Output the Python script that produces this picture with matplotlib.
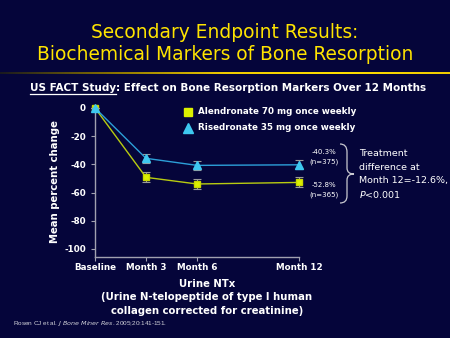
import numpy as np
import matplotlib
matplotlib.use("Agg")
import matplotlib.pyplot as plt
from matplotlib.colors import LinearSegmentedColormap
from matplotlib.path import Path
from matplotlib.patches import PathPatch

# Urine NTx, mean percent change from baseline
meses = [0, 3, 6, 12]
rotulos_x = ["Baseline", "Month 3", "Month 6", "Month 12"]
alendronato = [0, -49.2, -53.9, -52.8]
risedronato = [0, -35.7, -40.7, -40.3]
erro_alen = [0, 3.5, 3.5, 3.5]
erro_rise = [0, 3.3, 3.3, 3.3]
ticks_y = [0, -20, -40, -60, -80, -100]

FUNDO = "#05053a"
AMARELO = "#ffe400"
W, H = 450, 338

fig = plt.figure(figsize=(4.5, 3.38), dpi=100, facecolor=FUNDO)
plt.rcParams['font.family'] = 'DejaVu Sans'

# camada em pixels (origem no canto superior esquerdo) para textos e enfeites
base = fig.add_axes([0, 0, 1, 1])
base.set_xlim(0, W)
base.set_ylim(H, 0)
base.axis("off")
base.set_zorder(5)

# titulo
base.text(225, 33, "Secondary Endpoint Results:", color=AMARELO,
          fontsize=13.4, ha="center", va="center")
base.text(225, 55, "Biochemical Markers of Bone Resorption", color=AMARELO,
          fontsize=13.4, ha="center", va="center")

# linha dourada com degrade
ax_linha = fig.add_axes([0, 1 - 74.5 / H, 1, 2.5 / H])
cmap = LinearSegmentedColormap.from_list("ouro", ["#1a1a20", "#8a7400", "#f0cc00", "#ffe000", "#f0cc00"])
ax_linha.imshow(np.linspace(0, 1, 450)[None, :], aspect="auto", cmap=cmap)
ax_linha.axis("off")

# subtitulo
t1 = base.text(30, 88, "US FACT Study", color="white", fontsize=7.45,
               fontweight="bold", ha="left", va="center")
fig.canvas.draw()
x_fim = t1.get_window_extent().x1 * W / (fig.get_figwidth() * fig.dpi)
base.text(x_fim, 88, ": Effect on Bone Resorption Markers Over 12 Months",
          color="white", fontsize=7.45, fontweight="bold", ha="left", va="center")
base.plot([30, x_fim], [93.5, 93.5], color="white", lw=0.9)

# eixo principal
y_top, y_bot = 2.0, -105.7
x0, x1 = 95, 299
top_px = 108 - y_top * 1.41
ax = fig.add_axes([x0 / W, 1 - 257 / H, (x1 - x0) / W, (257 - top_px) / H])
ax.set_facecolor(FUNDO)
ax.set_xlim(0, 12)
ax.set_ylim(y_bot, y_top)

ax.errorbar(meses, alendronato, yerr=erro_alen, color="#b8cc10", lw=1.0,
            marker="s", ms=4.8, mfc="#dcf000", mec="#c8d800", ecolor="#9a9a9a",
            elinewidth=0.8, capsize=2.8, capthick=0.8, clip_on=False, zorder=3)
ax.errorbar(meses, risedronato, yerr=erro_rise, color="#2c9fd8", lw=1.0,
            marker="^", ms=5.2, mfc="#3ec8f0", mec="#3ec8f0", ecolor="#9a9a9a",
            elinewidth=0.8, capsize=2.8, capthick=0.8, clip_on=False, zorder=4)

for s in ["top", "right"]:
    ax.spines[s].set_visible(False)
for s in ["left", "bottom"]:
    ax.spines[s].set_color("#a0a0b0")
    ax.spines[s].set_linewidth(1.0)
ax.spines["left"].set_bounds(y_bot, 0)
ax.set_yticks(ticks_y)
ax.set_yticklabels([str(v) for v in ticks_y])
ax.set_xticks(meses)
ax.set_xticklabels(rotulos_x)
ax.tick_params(colors="#a0a0b0", length=3, width=0.8, labelcolor="white",
               labelsize=6.3)
for lab in ax.get_xticklabels() + ax.get_yticklabels():
    lab.set_fontweight("bold")
ax.tick_params(axis="x", pad=1.5)
ax.set_ylabel("Mean percent change", color="white", fontsize=7.3,
              fontweight="bold", labelpad=3)

# legenda
base.plot([188], [112], marker="s", ms=6, color="#dcf000", ls="none")
base.plot([188], [128], marker="^", ms=6.5, color="#3ec8f0", ls="none")
base.text(198, 112, "Alendronate 70 mg once weekly", color="white",
          fontsize=6.3, fontweight="bold", ha="left", va="center")
base.text(198, 128, "Risedronate 35 mg once weekly", color="white",
          fontsize=6.3, fontweight="bold", ha="left", va="center")

# valores no mes 12
kw = dict(color="white", fontsize=5.0, ha="center", va="center")
base.text(324, 152, f"{risedronato[-1]:.1f}%", **kw)
base.text(324, 162, "(n=375)", **kw)
base.text(324, 185, f"{alendronato[-1]:.1f}%", **kw)
base.text(324, 195, "(n=365)", **kw)

# chave
vert = [(340, 144), (347, 144), (347, 152), (347, 168),
        (347, 174), (354, 174), (347, 174), (347, 180),
        (347, 196), (347, 203), (340, 203)]
cod = [Path.MOVETO, Path.CURVE3, Path.CURVE3, Path.LINETO,
       Path.CURVE3, Path.CURVE3, Path.CURVE3, Path.CURVE3,
       Path.LINETO, Path.CURVE3, Path.CURVE3]
base.add_patch(PathPatch(Path(vert, cod), fill=False, ec="#c8c8d0", lw=0.9))

kw = dict(color="white", fontsize=6.8, ha="left", va="center")
base.text(359, 154, "Treatment", **kw)
base.text(359, 168, "difference at", **kw)
base.text(359, 181, "Month 12=-12.6%,", **kw)
base.text(359, 194, r"$P$<0.001", **kw)

# descricao do marcador
kw = dict(color="white", fontsize=7.3, fontweight="bold", ha="center", va="center")
base.text(207, 284, "Urine NTx", **kw)
base.text(207, 297, "(Urine N-telopeptide of type I human", **kw)
base.text(207, 311, "collagen corrected for creatinine)", **kw)

# referencia
base.text(13, 323, r"Rosen CJ et al. $\it{J\ Bone\ Miner\ Res}$. 2005;20:141-151.",
          color="#d0d0d8", fontsize=4.6, ha="left", va="center", family="Liberation Sans")

fig.savefig("out.png", dpi=100, facecolor=FUNDO)
